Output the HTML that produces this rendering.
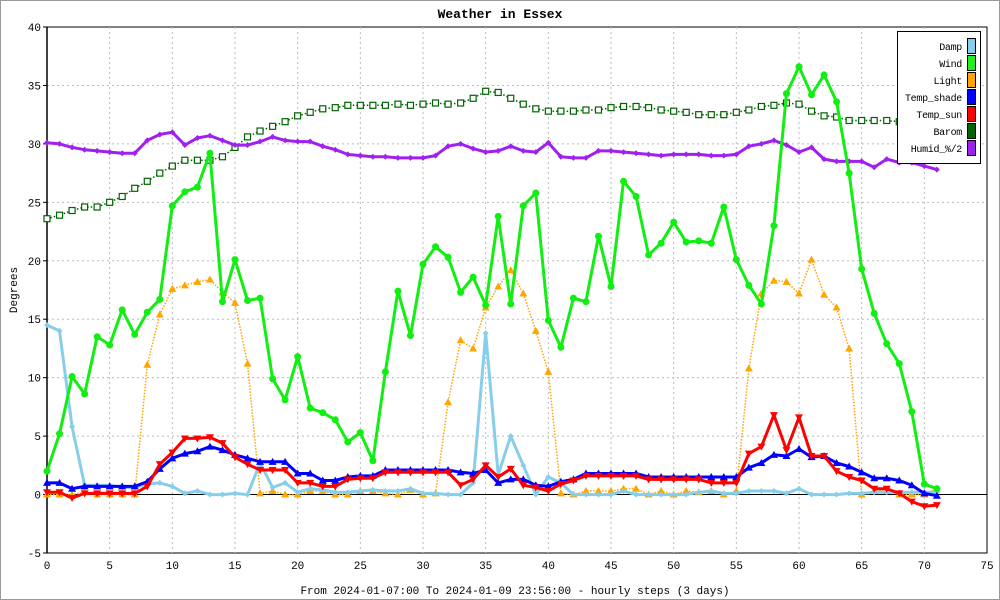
<!DOCTYPE html>
<html><head><meta charset="utf-8"><style>
html,body{margin:0;padding:0;background:#fff}
svg{display:block;font-family:"Liberation Mono","DejaVu Sans Mono",monospace}
</style></head><body>
<svg id="chart" width="1000" height="600" viewBox="0 0 1000 600" xmlns="http://www.w3.org/2000/svg">
<rect x="0.5" y="0.5" width="999" height="599" fill="#fff" stroke="#999"/>
<text x="500" y="18" text-anchor="middle" font-size="13" font-weight="bold">Weather in Essex</text>
<text x="17" y="290" text-anchor="middle" font-size="11" transform="rotate(-90 17 290)">Degrees</text>
<text x="515" y="594" text-anchor="middle" font-size="11">From 2024-01-07:00 To 2024-01-09 23:56:00 - hourly steps (3 days)</text>
<g id="grid"></g>
<g id="axes"></g>
<g id="series"></g>
<g id="legend"></g>
</svg>
<script>
const xTicks=[0,5,10,15,20,25,30,35,40,45,50,55,60,65,70,75];
const yTicks=[-5,0,5,10,15,20,25,30,35,40];
const seriesNames=["Damp","Wind","Light","Temp_shade","Temp_sun","Barom","Humid_%/2"];
const damp=[14.5,14.0,5.8,0.8,0.8,0.8,0.6,0.6,0.9,1.0,0.7,0.1,0.3,0,0,0.1,0,2.7,0.6,1.0,0.2,0.5,0.4,0.2,0.2,0.3,0.4,0.3,0.3,0.5,0.1,0.1,0,0,1.0,13.8,1.7,5.0,2.5,0,1.5,1.0,0,0,0,0,0.3,0,0,0,0,0,0.2,0.3,0.1,0.1,0.3,0.3,0.3,0.1,0.5,0,0,0,0.1,0.1,0.2,0.2,0.2,0.2,0.2,0.2];
const wind=[2.0,5.2,10.1,8.6,13.5,12.8,15.8,13.7,15.6,16.7,24.7,25.9,26.3,29.2,16.5,20.1,16.6,16.8,9.9,8.1,11.8,7.4,7.0,6.4,4.5,5.3,2.9,10.5,17.4,13.6,19.7,21.2,20.3,17.3,18.6,16.2,23.8,16.3,24.7,25.8,14.9,12.6,16.8,16.5,22.1,17.8,26.8,25.5,20.5,21.5,23.3,21.6,21.7,21.5,24.6,20.1,17.9,16.3,23.0,34.3,36.6,34.2,35.9,33.6,27.5,19.3,15.5,12.9,11.2,7.1,0.9,0.5];
const light=[0,0,0,0.2,0,0,0,0,11.1,15.4,17.6,17.9,18.2,18.4,17.3,16.4,11.2,0.1,0.3,0,0,0.3,0.3,0,0,0.3,0.3,0.1,0,0.4,0,0.1,7.9,13.2,12.5,16.0,17.8,19.2,17.2,14.0,10.5,0.1,0,0.3,0.3,0.3,0.5,0.5,0,0.3,0,0.3,0.2,0.3,0,0.3,10.8,17.2,18.3,18.2,17.2,20.1,17.1,16.0,12.5,0,0.3,0.3,0,0,0,0.5];
const tempShade=[1.0,1.0,0.5,0.7,0.7,0.7,0.7,0.7,1.1,2.2,3.1,3.5,3.7,4.1,3.8,3.4,3.1,2.8,2.8,2.8,1.8,1.8,1.2,1.2,1.5,1.6,1.6,2.1,2.1,2.1,2.1,2.1,2.1,1.9,1.8,2.1,1.0,1.3,1.3,0.8,0.7,1.1,1.3,1.8,1.8,1.8,1.8,1.8,1.5,1.5,1.5,1.5,1.5,1.5,1.5,1.5,2.3,2.7,3.4,3.3,3.9,3.2,3.3,2.7,2.4,1.9,1.4,1.4,1.2,0.8,0.1,-0.1];
const tempSun=[0.2,0.2,-0.3,0.1,0.1,0.1,0.1,0.1,0.7,2.6,3.6,4.8,4.8,4.9,4.4,3.2,2.6,2.1,2.1,2.1,1.0,1.0,0.7,0.7,1.3,1.4,1.4,1.9,1.9,1.9,1.9,1.9,1.9,0.8,1.3,2.5,1.5,2.2,0.8,0.6,0.3,0.9,1.2,1.6,1.6,1.6,1.6,1.6,1.3,1.3,1.3,1.3,1.3,1.0,1.0,1.0,3.5,4.1,6.8,3.8,6.6,3.3,3.3,2.0,1.5,1.2,0.5,0.5,0.1,-0.6,-1.0,-0.9];
const barom=[23.6,23.9,24.3,24.6,24.6,25.0,25.5,26.2,26.8,27.5,28.1,28.6,28.6,28.6,28.9,29.7,30.6,31.1,31.5,31.9,32.4,32.7,33.0,33.1,33.3,33.3,33.3,33.3,33.4,33.3,33.4,33.5,33.4,33.5,33.9,34.5,34.4,33.9,33.4,33.0,32.8,32.8,32.8,32.9,32.9,33.1,33.2,33.2,33.1,32.9,32.8,32.7,32.5,32.5,32.5,32.7,32.9,33.2,33.3,33.5,33.4,32.8,32.4,32.3,32.0,32.0,32.0,32.0,31.9,31.8,31.8,31.7];
const humid=[30.1,30.0,29.7,29.5,29.4,29.3,29.2,29.2,30.3,30.8,31.0,29.9,30.5,30.7,30.3,29.9,29.9,30.2,30.6,30.3,30.2,30.2,29.8,29.5,29.1,29.0,28.9,28.9,28.8,28.8,28.8,29.0,29.8,30.0,29.6,29.3,29.4,29.8,29.4,29.3,30.1,28.9,28.8,28.8,29.4,29.4,29.3,29.2,29.1,29.0,29.1,29.1,29.1,29.0,29.0,29.1,29.8,30.0,30.3,29.9,29.3,29.7,28.7,28.5,28.5,28.5,28.0,28.7,28.4,28.4,28.1,27.8];

const NS="http://www.w3.org/2000/svg";
const X0=47,X1=987,Y0=553,Y1=27,XMIN=0,XMAX=75,YMIN=-5,YMAX=40;
function xs(v){return X0+(v-XMIN)/(XMAX-XMIN)*(X1-X0);}
function ys(v){return Y0-(v-YMIN)/(YMAX-YMIN)*(Y0-Y1);}
function mk(tag,attrs,parent){const e=document.createElementNS(NS,tag);for(const k in attrs)e.setAttribute(k,attrs[k]);parent.appendChild(e);return e;}
const grid=document.getElementById('grid'),axes=document.getElementById('axes'),ser=document.getElementById('series'),leg=document.getElementById('legend');

mk('rect',{x:X0,y:Y1,width:X1-X0,height:Y0-Y1,fill:'#fff',stroke:'#000','stroke-width':1},grid);
xTicks.forEach(t=>{
  if(t>XMIN&&t<XMAX){const l=mk('line',{x1:xs(t),x2:xs(t),y1:Y1,y2:Y0,stroke:'#bbb','stroke-dasharray':'2,3'},grid);
  
  }
  const tx=mk('text',{x:xs(t),y:Y0+16,'text-anchor':'middle','font-size':11},axes);
  tx.textContent=t;
  
  
});
yTicks.forEach(t=>{
  if(t>YMIN&&t<YMAX&&t!==0){const l=mk('line',{x1:X0,x2:X1,y1:ys(t),y2:ys(t),stroke:'#bbb','stroke-dasharray':'2,3'},grid);
  
  }
  mk('line',{x1:X0-4,x2:X0,y1:ys(t),y2:ys(t),stroke:'#000'},axes);
  const tx=mk('text',{x:X0-6,y:ys(t)+4,'text-anchor':'end','font-size':11},axes);
  tx.textContent=t;
  
  
});
const zl=mk('line',{x1:X0,x2:X1,y1:ys(0),y2:ys(0),stroke:'#000','stroke-width':1},axes);


mk('line',{x1:X0,x2:X0,y1:Y1,y2:Y0,stroke:'#000','stroke-width':1.5},axes);

function marker(type,x,y,color,g){
  let e;
  if(type==='circle')e=mk('circle',{cx:x,cy:y,r:3.5,fill:color},g);
  else if(type==='up')e=mk('polygon',{points:`${x-4},${y+3} ${x+4},${y+3} ${x},${y-4}`,fill:color},g);
  else if(type==='down')e=mk('polygon',{points:`${x-4},${y-3} ${x+4},${y-3} ${x},${y+4}`,fill:color},g);
  else if(type==='square')e=mk('rect',{x:x-3,y:y-3,width:6,height:6,fill:'#fff',stroke:color,'stroke-width':1.2},g);
  else if(type==='diamond')e=mk('polygon',{points:`${x-3},${y} ${x},${y-3} ${x+3},${y} ${x},${y+3}`,fill:color},g);
  return e;
}
function drawSeries(name,vals,color,width,dash,mtype){
  const g=mk('g',{},ser);
  
  
  const pts=vals.map((v,i)=>xs(i).toFixed(1)+','+ys(v).toFixed(1)).join(' ');
  const attrs={points:pts,fill:'none',stroke:color,'stroke-width':width,'stroke-linejoin':'round'};
  if(dash)attrs['stroke-dasharray']=dash;
  const pl=mk('polyline',attrs,g);
  
  
  vals.forEach((v,i)=>{
    const m=marker(mtype,xs(i),ys(v),color,g);
    
    
  });
}
drawSeries('Barom',barom,'#006400',1.5,'1.5,2','square');
drawSeries('Humid',humid,'#a020f0',3,null,'diamond');
drawSeries('Light',light,'#ffa500',1.5,'1.5,1.5','up');
drawSeries('Damp',damp,'#87ceeb',3,null,'diamond');
drawSeries('Wind',wind,'#11ee11',3,null,'circle');
drawSeries('Temp_shade',tempShade,'#0000ff',3,null,'up');
drawSeries('Temp_sun',tempSun,'#ff0000',3,null,'down');

const legColors=['#87ceeb','#22ee22','#ffa500','#0000ff','#ff0000','#006400','#a020f0'];
mk('rect',{x:897.5,y:31.5,width:83,height:132,fill:'#fff',stroke:'#000'},leg);
seriesNames.forEach((n,i)=>{
  const y=46+i*17;
  const t=mk('text',{x:962,y:y+4,'text-anchor':'end','font-size':10,'letter-spacing':'-0.3'},leg);
  t.textContent=n;
  
  
  const s=mk('rect',{x:967.5,y:y-7.5,width:8,height:15,fill:legColors[i],stroke:'#000'},leg);
  
  
});
</script>
</body></html>
